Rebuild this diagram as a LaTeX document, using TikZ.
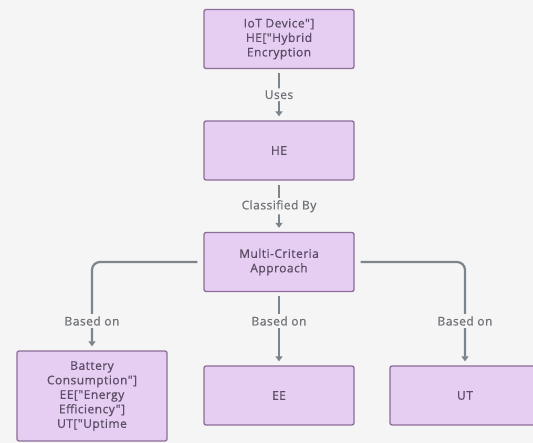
\documentclass[tikz,border=0pt]{standalone}
\usepackage{fontspec}
\setmainfont{Open Sans}
\newfontfamily\medfont{Open Sans}[FakeBold=0.7, LetterSpace=4]
\usetikzlibrary{arrows.meta}
\definecolor{boxfill}{HTML}{E6CEF2}
\definecolor{boxline}{HTML}{8C6C98}
\definecolor{linkgray}{HTML}{7C858B}
\definecolor{bgcol}{HTML}{F6F5F6}
\definecolor{boxtxt}{HTML}{5C4D66}
\definecolor{lbltxt}{HTML}{6E7276}
\tikzset{
  stepbox/.style={draw=boxline, fill=boxfill, line width=1.3pt, rounded corners=2pt,
    minimum width=150pt, minimum height=59pt, align=center, text=boxtxt,
    font=\medfont\fontsize{12}{14.5}\selectfont},
  link/.style={draw=linkgray, line width=2.2pt, -{Triangle[length=5pt,width=7pt]},
    shorten <=4pt, shorten >=4pt, rounded corners=8pt},
  lbl/.style={fill=bgcol, text=lbltxt, font=\medfont\fontsize{12}{13}\selectfont, inner sep=2pt}
}
\begin{document}
\begin{tikzpicture}[x=1pt,y=-1pt]
\fill [bgcol] (0,0) rectangle (533,443);
\clip (0,0) rectangle (533,443);
\node [stepbox] (iot) at (279,39) {IoT Device"]\\HE["Hybrid\\Encryption};
\node [stepbox] (he) at (279,150.5) {HE};
\node [stepbox] (mc) at (279,262) {Multi-Criteria\\Approach};
\node [stepbox, minimum height=90pt] (bc) at (92,396) {Battery\\Consumption"]\\EE["Energy\\Efficiency"]\\UT["Uptime};
\node [stepbox] (ee) at (279,395.5) {EE};
\node [stepbox] (ut) at (465,395.5) {UT};
\draw [link] (iot) -- node[lbl] {Uses} (he);
\draw [link] (he) -- node[lbl] {Classified By} (mc);
\draw [link, shorten <=6pt] (mc.west) -| (bc.north);
\draw [link] (mc) -- (ee);
\draw [link, shorten <=6pt] (mc.east) -| (ut.north);
\node [lbl] (lb1) at (92,321) {Based on};
\node [lbl] (lb2) at (279,321) {Based on};
\node [lbl] (lb3) at (465,321) {Based on};
\end{tikzpicture}
\end{document}
